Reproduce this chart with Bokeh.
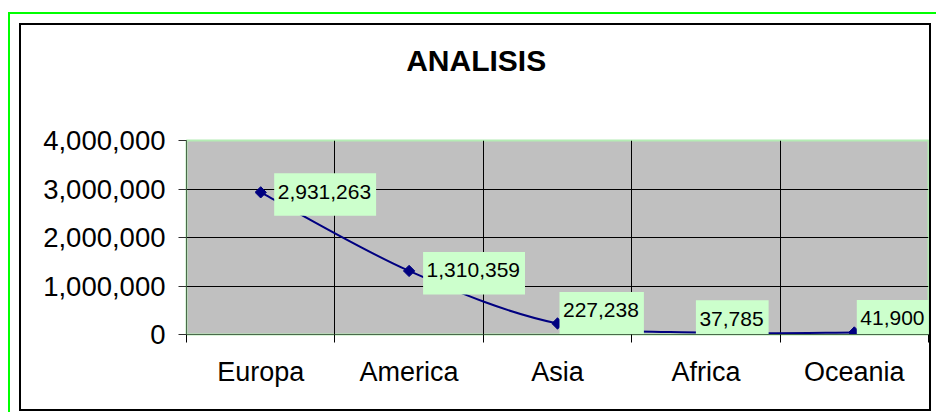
import numpy as np
from bokeh.plotting import figure
from bokeh.core.properties import value
from bokeh.models import (Range1d, LinearAxis, FixedTicker, NumeralTickFormatter,
                          Grid, Title, ColumnDataSource)
from bokeh.embed import file_html
from bokeh.resources import INLINE

# ---- data ----
title_text = "ANALISIS"
regions = ["Europa", "America", "Asia", "Africa", "Oceania"]
values = [2931263, 1310359, 227238, 37785, 41900]
y_ticks = [0, 1000000, 2000000, 3000000, 4000000]

# ---- layout / style (screen px) ----
label_dx = [17, 17.5, 5.5, -6.5, 6]      # label text left edge relative to its point
label_dy = [-0.5, -0.5, -13, -14, -14]   # label text middle relative to its point (down = +)
FIG_X, FIG_Y = 21, 25                    # figure position on the page (inside the chart border)
W, H = 908, 384
FL, FR, FT, FB = 165, 907, 115, 309      # plot frame edges inside the figure
FONT = "Liberation Sans"
NAVY = "#000080"

n = len(regions)
xs = np.arange(n) + 0.5          # category centres on a 0..n category axis
ys = np.array(values, dtype=float)

p = figure(width=W, height=H, output_backend="svg", toolbar_location=None,
           x_range=Range1d(0, n), y_range=Range1d(0, y_ticks[-1]),
           x_axis_location=None, y_axis_location="left",
           min_border_left=FL, min_border_right=W - FR, min_border_top=FT,
           min_border_bottom=H - FB)
p.margin = (FIG_Y, 0, 0, FIG_X)
# chart-area border (black) and the outer green frame
p.styles = {"outline": "2px solid black",
            "box-shadow": "0 0 0 11px white, 0 0 0 13px #00ff00"}
p.background_fill_color = "#c0c0c0"
p.border_fill_color = "white"
p.outline_line_color = "#b4ecb4"
p.outline_line_width = 2

yax = p.yaxis[0]
yax.ticker = FixedTicker(ticks=y_ticks)
yax.formatter = NumeralTickFormatter(format="0,0")
yax.major_label_text_font = FONT
yax.major_label_text_font_size = "27.5px"
yax.major_label_text_color = "black"
yax.major_tick_out = 8
yax.major_tick_in = 0
yax.minor_tick_line_color = None
yax.major_tick_line_color = "#303030"
yax.axis_line_color = "#4a6a4a"
yax.major_label_standoff = 13

p.ygrid.ticker = FixedTicker(ticks=y_ticks[1:-1])
p.ygrid.grid_line_color = "black"
p.xgrid.grid_line_color = None

xax = LinearAxis(ticker=FixedTicker(ticks=list(xs), minor_ticks=list(range(n + 1))),
                 major_label_overrides={float(x): name for x, name in zip(xs, regions)})
xax.major_tick_out = 0
xax.major_tick_in = 0
xax.major_tick_line_color = None
xax.minor_tick_out = 8
xax.minor_tick_in = 0
xax.minor_tick_line_color = "black"
xax.axis_line_color = "#4a6a4a"
xax.major_label_text_font = FONT
xax.major_label_text_font_size = "27px"
xax.major_label_text_color = "black"
xax.major_label_standoff = 14
p.add_layout(xax, "below")

p.add_layout(Grid(dimension=0, ticker=FixedTicker(ticks=list(range(1, n))),
                  grid_line_color="black"), "center")

# invisible spacer above the frame, so that the title sits higher up
spacer = LinearAxis(ticker=FixedTicker(ticks=[0]), axis_line_color=None,
                    major_tick_out=64, major_tick_in=0, major_tick_line_color=None,
                    minor_tick_out=0, minor_tick_in=0, minor_tick_line_color=None,
                    major_label_standoff=0, major_label_overrides={0: ""},
                    major_label_text_font_size="1px")
p.add_layout(spacer, "above")

p.title = Title(text=title_text, align="left", offset=219.7, standoff=0,
                vertical_align="bottom", text_font=FONT, text_font_size="30px",
                text_font_style="bold", text_color="black")

# smoothed line (Catmull-Rom style Bezier, as Excel's smoothed line)
seg = dict(x0=[], y0=[], x1=[], y1=[], cx0=[], cy0=[], cx1=[], cy1=[])
for i in range(n - 1):
    a = i - 1 if i > 0 else i
    d = i + 2 if i + 2 < n else i + 1
    seg["x0"].append(xs[i]); seg["y0"].append(ys[i])
    seg["x1"].append(xs[i + 1]); seg["y1"].append(ys[i + 1])
    seg["cx0"].append(xs[i] + (xs[i + 1] - xs[a]) / 6)
    seg["cy0"].append(ys[i] + (ys[i + 1] - ys[a]) / 6)
    seg["cx1"].append(xs[i + 1] - (xs[d] - xs[i]) / 6)
    seg["cy1"].append(ys[i + 1] - (ys[d] - ys[i]) / 6)
p.bezier(source=ColumnDataSource(seg), x0="x0", y0="y0", x1="x1", y1="y1",
         cx0="cx0", cy0="cy0", cx1="cx1", cy1="cy1", line_color=NAVY, line_width=2)

p.scatter(x=xs, y=ys, marker="square", angle=np.pi / 4, size=8,
          fill_color=NAVY, line_color=NAVY)

# data labels: light green boxes with the value text
FS = 21
texts = [f"{v:,}" for v in values]
tw = np.array([FS * sum(0.278 if c == "," else 0.556 for c in t) for t in texts])
px_x = (FR - FL) / n                 # pixels per category unit
px_y = (FB - FT) / y_ticks[-1]       # pixels per value unit
dx = np.array(label_dx, dtype=float)
dy = np.array(label_dy, dtype=float)
lab = ColumnDataSource(dict(
    x=xs, y=ys, text=texts, dx=dx, dy=dy,
    left=xs + (dx - 3.5) / px_x, right=xs + (dx + tw + 5) / px_x,
    top=ys - (dy - 18.5) / px_y, bottom=ys - (dy + 24) / px_y))
p.quad(source=lab, left="left", right="right", top="top", bottom="bottom",
       fill_color="#ccffcc", line_color=None)
p.text(source=lab, x="x", y="y", text="text", x_offset="dx", y_offset="dy",
       text_align="left", text_baseline="middle", text_font=value(FONT),
       text_font_size=value(f"{FS}px"), text_color="black")

open("out.html", "w").write(file_html(p, INLINE))
